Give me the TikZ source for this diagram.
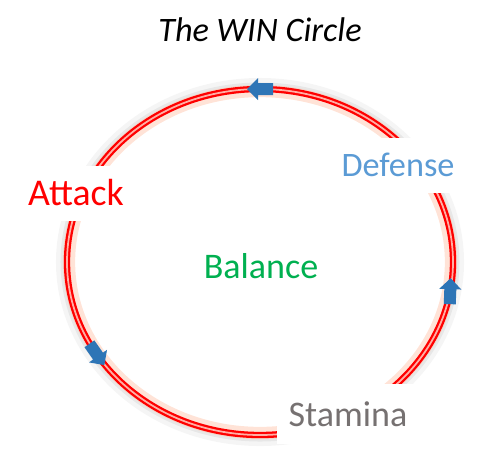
\documentclass[tikz,border=0pt]{standalone}
\usepackage{fontspec}
\setmainfont{Carlito}
\usepackage{tikz}
\usetikzlibrary{calc}
\usepackage{xcolor}
\definecolor{attackred}{RGB}{255,0,0}
\definecolor{defenseblue}{RGB}{91,155,213}
\definecolor{staminagray}{RGB}{118,113,113}
\definecolor{balancegreen}{RGB}{0,176,80}
\definecolor{arrowblue}{RGB}{46,117,182}
\definecolor{ringglow}{RGB}{255,200,175}
\definecolor{ringcore}{RGB}{255,175,165}

\tikzset{
  label box/.style={fill=white, inner sep=0pt},
  pics/flowarrow/.style={code={
    \fill[arrowblue] (-13,-6) -- (2,-6) -- (2,-11) -- (13,0) -- (2,11) -- (2,6) -- (-13,6) -- cycle;
  }}
}

\begin{document}
\begin{tikzpicture}[x=0.02cm, y=-0.02cm]
  \useasboundingbox (0,0) rectangle (480,461);
  % centre and radii of the ring (pixel units, y downwards)
  \coordinate (c) at (260,262);
  % outer grey shadow
  \draw[gray, line width=8, opacity=0.08] (c) ellipse [x radius=197, y radius=177];
  \draw[gray, line width=4, opacity=0.12] (c) ellipse [x radius=196, y radius=176];
  % warm glow on the inside
  \draw[ringglow, line width=7, opacity=0.5] (c) ellipse [x radius=191, y radius=171];
  % the red ring itself
  \draw[attackred, line width=3.6] (c) ellipse [x radius=193, y radius=173];
  \draw[ringcore, line width=1] (c) ellipse [x radius=193, y radius=173];
  % points on the ring that carry the arrows
  \coordinate (top) at ($(c)+(-90:193 and 173)$);
  \coordinate (right) at ($(c)+(9.7:193 and 173)$);
  \coordinate (left) at ($(c)+(147.7:193 and 173)$);
  \pic[rotate=180] at (top) {flowarrow};
  \pic[rotate=88] at (right) {flowarrow};
  \pic[rotate=-55] at (left) {flowarrow};
  % labels, with white boxes that hide the ring behind them
  \node[font=\fontsize{19.5}{22}\selectfont\itshape] (title) at (260,30) {The WIN Circle};
  \node[label box, minimum width=2.6cm, minimum height=1.1cm, text=attackred,
        font=\fontsize{21.5}{24}\selectfont] (attack) at (76,193) {Attack};
  \node[label box, minimum width=2.8cm, minimum height=1.1cm, text=defenseblue,
        font=\fontsize{19.5}{22}\selectfont] (defense) at (398,165) {Defense};
  \node[label box, minimum width=2.84cm, minimum height=1.2cm, text=staminagray,
        font=\fontsize{20.5}{23}\selectfont] (stamina) at (348,414) {Stamina};
  \node[text=balancegreen, font=\fontsize{20.5}{23}\selectfont] (balance) at (261,266) {Balance};
\end{tikzpicture}
\end{document}
